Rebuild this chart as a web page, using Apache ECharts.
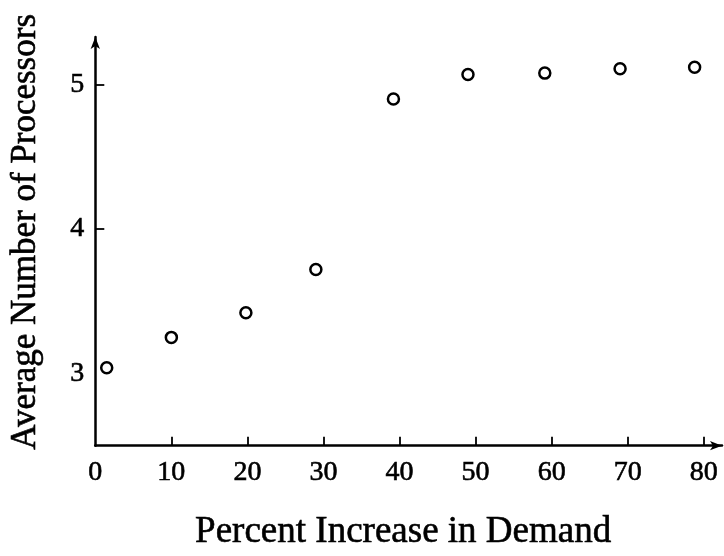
<!DOCTYPE html>
<html>
<head>
<meta charset="utf-8">
<script src="https://cdn.jsdelivr.net/npm/echarts@6/dist/echarts.min.js"></script>
<style>
html,body{margin:0;padding:0;background:#fff;}
#chart{width:724px;height:556px;}
</style>
</head>
<body>
<div id="chart"></div>
<script>
// Data
const percentIncrease = [1.5, 10, 19.8, 29, 39.2, 49, 59.1, 69, 78.8];
const avgProcessors   = [3.04, 3.25, 3.42, 3.72, 4.90, 5.07, 5.08, 5.11, 5.12];
const xTickLabels = [0, 10, 20, 30, 40, 50, 60, 70, 80];
const xTickMarks  = [10, 20, 30, 40, 50, 60, 70, 80];
const yTickLabels = [3, 4, 5];
const yTickMarks  = [4, 5];
const xTitle = 'Percent Increase in Demand';
const yTitle = 'Average Number of Processors';

const points = percentIncrease.map((x, i) => [x, avgProcessors[i]]);
const serif = '"Liberation Serif", "DejaVu Serif", serif';
const inkText = {textBorderColor: '#000', textBorderWidth: 0.6};

const chart = echarts.init(document.getElementById('chart'), null, {renderer: 'canvas'});
chart.setOption({
  animation: false,
  backgroundColor: '#ffffff',
  grid: {left: 95, right: 2, top: 37, bottom: 106, containLabel: false},
  xAxis: {
    type: 'value',
    min: 0, max: 82.4,
    name: xTitle,
    nameLocation: 'middle',
    nameGap: 68,
    nameTextStyle: Object.assign({fontFamily: serif, fontSize: 37, color: '#000', padding: [0, 11, 0, 0]}, inkText),
    axisLine: {show: true, symbol: ['none', 'arrow'], symbolSize: [7, 12], lineStyle: {color: '#000', width: 2.5}},
    axisTick: {show: true, inside: true, length: 9, customValues: xTickMarks, lineStyle: {color: '#000', width: 1.8}},
    axisLabel: Object.assign({customValues: xTickLabels, fontFamily: serif, fontSize: 28, color: '#000', margin: 13}, inkText),
    splitLine: {show: false}
  },
  yAxis: {
    type: 'value',
    min: 2.5, max: 5.33,
    name: yTitle,
    nameLocation: 'middle',
    nameGap: 52,
    nameTextStyle: Object.assign({fontFamily: serif, fontSize: 35, color: '#000', padding: [0, 0, 0, 19]}, inkText),
    axisLine: {show: true, symbol: ['none', 'arrow'], symbolSize: [7, 12], lineStyle: {color: '#000', width: 2.5}},
    axisTick: {show: true, inside: true, length: 9, customValues: yTickMarks, lineStyle: {color: '#000', width: 1.8}},
    axisLabel: Object.assign({customValues: yTickLabels, fontFamily: serif, fontSize: 28, color: '#000', margin: 11}, inkText),
    splitLine: {show: false}
  },
  series: [{
    type: 'scatter',
    data: points,
    symbol: 'circle',
    symbolSize: 11,
    itemStyle: {color: '#ffffff', borderColor: '#000000', borderWidth: 2.5, opacity: 1}
  }]
});
</script>
</body>
</html>
